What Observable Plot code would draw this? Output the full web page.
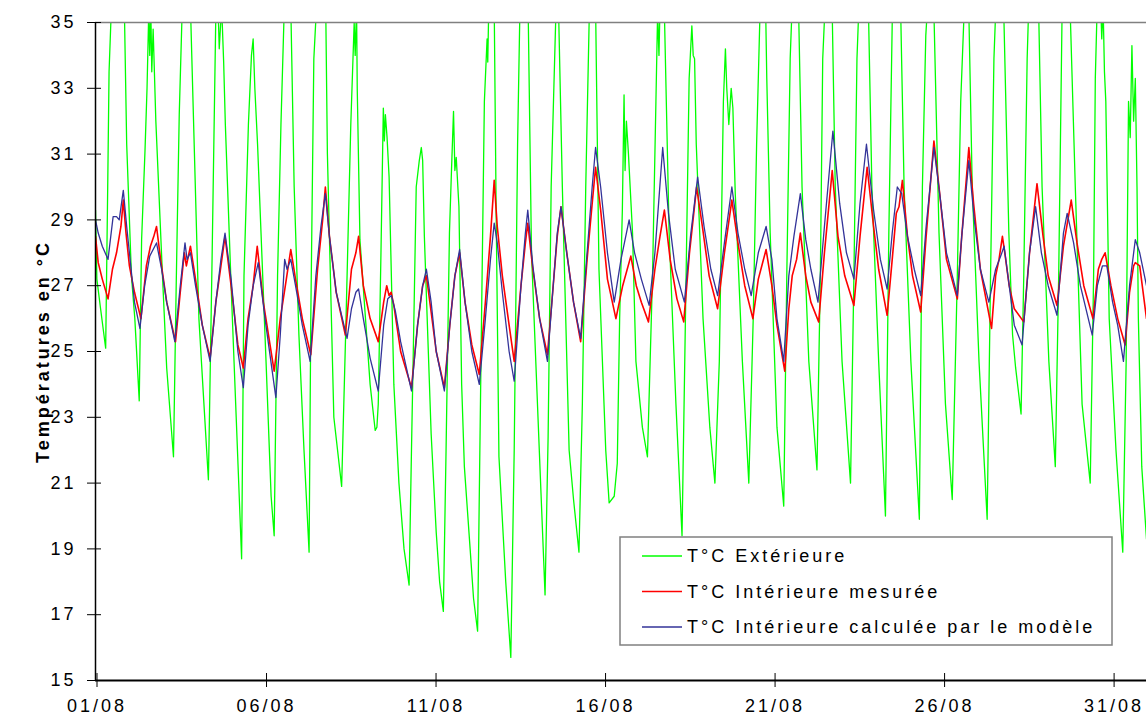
<!DOCTYPE html>
<html>
<head>
<meta charset="utf-8">
<script src="https://cdn.jsdelivr.net/npm/d3@7"></script>
<script src="https://cdn.jsdelivr.net/npm/@observablehq/plot@0.6"></script>
<style>
  html, body { margin: 0; padding: 0; background: #fff; }
  #chart svg { display: block; }
</style>
</head>
<body>
<div id="chart"></div>
<script>
// ---- Data (days since 01/08 00:00, temperature in °C) ----
const seriesNames = ["T°C Extérieure", "T°C Intérieure mesurée", "T°C Intérieure calculée par le modèle"];
const yTitle = "Températures en °C";
const yDomain = [15, 35];
const yTicks = [15, 17, 19, 21, 23, 25, 27, 29, 31, 33, 35];
const xTickLabels = ["01/08", "06/08", "11/08", "16/08", "21/08", "26/08", "31/08"];
const xDomainLabels = ["01/08", "01/09"];
const year = 2003;

const extDay = [
  0.00,0.04,0.15,0.30,0.36,0.40,0.47,0.65,0.85,0.92,1.06,1.16,1.29,1.36,1.46,1.52,1.57,1.60,1.63,1.66,1.70,1.78,1.98,2.10,2.30,
  2.38,2.47,2.56,2.70,2.80,3.05,3.33,3.44,3.55,3.60,3.65,3.72,3.78,3.83,4.00,4.15,4.31,4.38,4.51,4.60,4.65,4.70,4.78,5.03,5.18,5.27,
  5.37,5.47,5.57,5.66,5.76,5.86,6.00,6.15,6.30,6.35,6.44,6.52,6.65,6.79,6.84,7.03,7.26,7.38,7.53,7.63,7.66,7.70,7.72,7.80,8.10,8.25,
  8.30,8.34,8.42,8.49,8.52,8.55,8.60,8.66,8.80,8.95,9.10,9.25,9.32,9.40,9.46,9.55,9.61,9.65,9.70,9.90,10.05,10.15,10.26,
  10.34,10.44,10.50,10.56,10.60,10.64,10.72,10.80,10.88,11.05,11.15,11.27,11.37,11.47,11.55,11.57,11.60,11.68,11.76,11.82,11.90,12.10,12.25,
  12.35,12.45,12.52,12.65,12.76,12.86,13.09,13.26,13.35,13.44,13.58,13.62,13.66,13.77,13.97,14.10,14.26,14.36,14.46,14.57,14.66,14.75,14.85,15.05,
  15.15,15.30,15.39,15.46,15.54,15.59,15.62,15.66,15.72,15.84,15.94,16.13,16.28,16.43,16.53,16.58,16.62,16.66,16.72,16.78,16.92,17.12,17.30,
  17.42,17.51,17.59,17.63,17.67,17.72,17.92,18.12,18.27,18.40,18.52,18.58,18.62,18.68,18.75,18.80,18.87,19.08,19.27,
  19.40,19.50,19.60,19.66,19.72,19.76,19.80,19.90,20.10,20.30,20.39,20.49,20.54,20.64,20.74,20.84,21.04,21.28,
  21.38,21.45,21.51,21.62,21.73,21.82,22.02,22.27,22.37,22.46,22.51,22.65,22.80,22.90,23.10,23.30,23.40,23.50,23.62,23.75,23.85,24.05,24.30,
  24.39,24.49,24.53,24.62,24.73,24.88,25.07,25.27,25.42,25.52,25.62,25.69,25.76,25.86,26.06,26.30,26.40,26.50,26.55,26.68,26.79,26.94,27.05,27.14,27.30,
  27.38,27.48,27.52,27.67,27.82,27.92,28.12,28.31,28.41,28.51,28.63,28.75,28.90,29.10,29.34,29.44,29.49,29.54,29.62,29.68,29.72,29.76,29.80,29.90,30.10,30.30,
  30.40,30.47,30.52,30.57,30.62,30.67,30.72,30.76,30.86,31.00
];
const extTemp = [
  29.3,27.2,26.3,25.1,30.0,33.5,35.5,38.5,35.5,31.3,27.3,26.0,23.5,28.4,31.1,33.0,35.3,34.0,35.5,33.5,34.8,32.0,27.2,24.5,21.8,
  27.0,32.2,35.5,38.0,35.5,26.0,21.1,27.9,35.3,36.0,34.2,35.5,33.8,31.9,27.0,23.0,18.7,27.3,31.9,34.0,34.5,33.0,31.3,24.7,20.6,19.4,
  27.3,31.9,35.5,38.5,35.5,30.0,25.5,22.0,18.9,26.0,33.9,35.5,39.0,35.5,31.0,23.0,20.9,25.6,31.9,35.0,34.0,35.5,33.0,28.4,24.0,22.6,
  22.7,23.4,28.0,32.4,31.4,32.2,31.5,30.3,24.0,21.0,19.0,17.9,22.0,26.5,30.0,30.8,31.2,30.8,28.5,22.5,19.5,18.0,17.1,
  22.0,28.6,30.5,32.3,30.5,30.9,29.4,24.0,21.5,19.0,17.5,16.5,24.7,32.6,34.5,33.8,35.5,37.0,35.5,29.0,21.8,18.0,15.7,
  22.0,31.3,35.5,38.5,35.5,28.0,22.0,17.6,22.4,30.0,35.3,36.0,35.3,30.0,22.0,20.5,18.9,23.4,30.0,35.5,37.0,35.5,27.5,22.0,
  20.4,20.6,21.6,26.0,29.3,32.8,30.5,32.0,31.0,28.6,24.7,22.7,21.8,27.3,32.6,35.3,34.0,36.0,35.8,35.3,28.6,23.4,19.4,
  27.3,33.3,34.9,34.0,33.9,31.3,26.0,22.7,21.0,24.7,32.6,34.2,33.0,31.9,33.0,32.4,29.8,24.7,21.0,
  26.0,31.3,35.3,36.5,35.3,35.8,33.3,28.6,22.7,20.3,27.3,33.9,35.3,38.0,35.3,30.0,24.7,21.4,
  27.3,33.9,35.3,38.5,35.3,30.0,24.7,21.0,27.3,33.9,35.3,39.0,35.3,30.0,24.7,20.0,28.6,35.0,38.5,35.3,30.0,24.7,19.9,
  30.0,34.6,35.3,38.0,35.3,28.6,23.4,20.5,27.3,32.6,35.3,37.0,35.3,30.0,24.7,19.9,27.3,33.9,35.3,38.0,35.3,28.6,25.5,24.5,23.1,
  27.3,33.9,35.3,39.0,35.3,30.0,24.7,21.5,27.3,35.3,37.5,35.3,30.0,23.4,21.0,27.3,33.3,35.3,36.5,34.5,35.5,33.5,32.6,26.0,22.0,18.9,
  24.7,32.6,31.5,34.3,32.0,33.3,30.0,26.0,21.5,19.3
];

const mesDay = [
  0.00,0.08,0.20,0.37,0.50,0.62,0.75,0.82,0.90,1.00,1.15,1.34,1.50,1.62,1.72,1.80,1.92,2.10,2.36,2.50,2.62,2.68,2.80,2.95,3.15,3.38,
  3.55,3.70,3.82,4.00,4.20,4.36,4.50,4.65,4.77,4.95,5.27,5.45,5.60,5.76,5.90,6.10,6.35,6.55,6.70,6.78,6.90,7.10,7.37,7.55,7.68,7.76,
  7.90,8.10,8.34,8.50,8.59,8.66,8.72,8.80,9.00,9.32,9.50,9.65,9.76,9.90,10.05,10.29,10.45,10.60,10.74,10.90,11.10,11.32,11.50,11.65,
  11.76,11.85,12.00,12.20,12.35,12.55,12.68,12.75,12.90,13.10,13.33,13.50,13.62,13.73,13.90,14.10,14.31,14.50,14.65,14.75,14.90,15.10,
  15.35,15.55,15.79,15.95,16.10,16.31,16.50,16.65,16.78,16.95,17.15,17.35,17.52,17.73,17.90,18.10,18.35,18.55,18.77,18.95,19.15,19.39,
  19.55,19.78,19.95,20.10,20.33,20.45,20.55,20.68,20.79,20.95,21.10,21.33,21.50,21.73,21.90,22.10,22.37,22.55,22.76,22.95,23.10,23.35,
  23.50,23.62,23.70,23.80,23.95,24.10,24.34,24.50,24.73,24.90,25.10,25.42,25.55,25.76,25.90,26.10,26.43,26.55,26.65,26.75,26.82,26.95,
  27.10,27.38,27.55,27.77,27.95,28.10,28.36,28.55,28.78,28.95,29.15,29.42,29.58,29.68,29.78,29.95,30.15,30.37,30.50,30.62,30.67,30.80,31.00
];
const mesTemp = [
  28.5,27.7,27.2,26.6,27.5,28.0,28.8,29.6,28.6,27.6,26.8,26.0,27.6,28.2,28.5,28.8,27.8,26.5,25.3,26.8,28.0,27.6,28.2,27.2,25.8,24.8,
  26.5,27.6,28.5,27.0,25.2,24.5,26.0,27.0,28.2,26.5,24.4,26.0,27.0,28.1,27.2,26.0,24.9,27.5,29.0,30.0,28.5,26.8,25.5,27.5,28.0,28.5,
  27.0,26.0,25.3,26.5,27.0,26.7,26.8,26.4,25.0,23.9,25.8,27.0,27.3,26.2,25.0,23.9,25.8,27.3,28.0,26.5,25.2,24.3,26.5,28.5,
  30.2,28.8,27.3,25.8,24.7,27.0,28.3,28.9,27.5,26.0,24.9,27.0,28.5,29.4,28.0,26.5,25.3,27.8,29.5,30.6,29.3,27.2,
  26.0,27.0,27.9,27.0,26.5,25.9,27.5,28.5,29.3,27.8,26.6,25.9,28.0,30.0,28.8,27.3,26.3,28.0,29.6,28.3,27.0,26.0,
  27.2,28.1,27.0,25.8,24.4,26.3,27.3,27.8,28.6,27.3,26.5,25.9,28.0,30.5,28.5,27.3,26.4,28.5,30.6,28.8,27.5,26.1,
  27.8,29.2,29.4,30.2,28.5,27.3,26.2,28.5,31.4,29.8,27.8,26.6,28.5,31.2,29.5,27.5,25.7,27.3,27.8,28.5,28.0,27.0,
  26.3,25.9,28.0,30.1,28.5,27.3,26.4,28.2,29.6,28.3,27.0,26.0,27.5,27.8,28.0,27.0,26.0,25.2,26.8,27.6,27.7,27.6,26.0
];

const calDay = [
  0.00,0.08,0.20,0.37,0.45,0.52,0.62,0.70,0.82,0.92,1.05,1.15,1.31,1.45,1.60,1.80,1.95,2.10,2.34,2.50,2.64,2.70,2.80,2.95,3.15,3.38,
  3.55,3.70,3.82,4.00,4.20,4.36,4.50,4.65,4.80,5.00,5.32,5.45,5.58,5.65,5.76,5.90,6.10,6.33,6.50,6.65,6.78,6.90,7.10,7.42,7.55,7.68,
  7.76,7.90,8.10,8.34,8.50,8.62,8.73,8.85,9.00,9.32,9.50,9.65,9.76,9.90,10.05,10.29,10.45,10.60,10.74,10.90,11.10,11.32,11.50,11.65,
  11.76,11.85,12.00,12.20,12.35,12.55,12.68,12.75,12.90,13.10,13.33,13.50,13.62,13.73,13.90,14.10,14.31,14.50,14.65,14.75,14.90,15.10,
  15.30,15.50,15.74,15.90,16.10,16.33,16.50,16.63,16.73,16.90,17.10,17.37,17.55,17.76,17.95,18.15,18.35,18.55,18.77,18.95,19.15,19.34,
  19.55,19.78,19.95,20.10,20.30,20.45,20.60,20.79,20.95,21.10,21.31,21.50,21.75,21.95,22.15,22.37,22.55,22.74,22.95,23.15,23.35,
  23.50,23.65,23.78,23.95,24.15,24.34,24.50,24.73,24.90,25.10,25.42,25.55,25.76,25.92,26.10,26.35,26.55,26.70,26.80,26.95,27.10,27.33,
  27.55,27.73,27.90,28.10,28.36,28.55,28.66,28.85,29.05,29.40,29.55,29.70,29.83,30.00,30.15,30.32,30.50,30.67,30.80,31.00
];
const calTemp = [
  29.0,28.6,28.2,27.8,28.5,29.1,29.1,29.0,29.9,28.8,27.5,26.5,25.7,27.0,27.9,28.3,27.5,26.5,25.3,27.0,28.3,27.8,28.0,27.0,25.8,24.7,
  26.5,27.8,28.6,27.2,25.0,23.9,25.8,27.0,27.7,26.0,23.6,25.5,27.8,27.5,27.8,27.0,25.8,24.7,27.3,28.8,29.8,28.5,26.8,25.4,26.3,26.8,
  26.9,26.0,24.8,23.8,25.8,26.6,26.7,26.2,25.3,23.8,25.8,27.0,27.5,26.5,25.0,23.8,25.8,27.3,28.1,26.5,25.0,24.0,26.0,27.8,
  28.9,28.3,26.8,25.0,24.1,27.0,28.6,29.3,27.6,26.0,24.7,27.0,28.6,29.4,28.0,26.5,25.4,28.0,30.0,31.2,30.0,28.0,
  26.5,27.8,29.0,28.0,27.2,26.4,28.0,29.8,31.2,29.2,27.5,26.5,28.5,30.3,28.8,27.5,26.7,28.3,30.0,28.6,27.5,26.7,
  28.0,28.8,27.8,26.0,24.7,27.3,28.5,29.8,28.4,27.5,26.5,28.8,31.7,29.5,28.0,27.2,29.5,31.3,29.3,27.8,26.9,
  28.6,30.0,29.8,28.5,27.5,26.7,28.8,31.2,29.8,28.0,26.7,28.5,30.8,29.0,27.5,26.5,27.5,27.9,28.2,27.0,25.8,25.2,
  28.0,29.4,28.0,27.0,26.1,28.6,29.2,28.3,27.0,25.5,27.0,27.6,27.6,26.5,25.8,24.7,27.0,28.4,28.0,27.0
];

// ---- Build tables ----
const parseDay = s => d3.utcParse("%d/%m/%Y")(`${s}/${year}`);
const t0 = parseDay(xDomainLabels[0]);
const toDate = d => new Date(+t0 + d * 864e5);
const mk = (days, temps) => days.map((d, i) => ({date: toDate(d), temp: temps[i]}));
const ext = mk(extDay, extTemp);
const mes = mk(mesDay, mesTemp);
const cal = mk(calDay, calTemp);
const xDomain = xDomainLabels.map(parseDay);
const xTicks = xTickLabels.map(parseDay);
const colors = ["#00ff00", "#ff0000", "#333399"];

const FONT = "Arial, 'Liberation Sans', sans-serif";

const chart = Plot.plot({
  width: 1147,
  height: 726,
  marginLeft: 95,
  marginRight: 1,
  marginTop: 22,
  marginBottom: 46,
  style: {fontFamily: FONT, fontSize: "18px", letterSpacing: "3px", background: "#fff", color: "#000", overflow: "visible"},
  x: {type: "utc", domain: xDomain},
  y: {domain: yDomain},
  marks: [
    Plot.line(ext, {x: "date", y: "temp", stroke: colors[0], strokeWidth: 1.3, clip: true}),
    Plot.line(mes, {x: "date", y: "temp", stroke: colors[1], strokeWidth: 1.6, clip: true}),
    Plot.line(cal, {x: "date", y: "temp", stroke: colors[2], strokeWidth: 1.3, clip: true}),
    Plot.ruleY([yDomain[1]], {stroke: "#808080", strokeWidth: 1.5}),
    Plot.ruleX([xDomain[0]], {stroke: "#000", strokeWidth: 1.5}),
    Plot.ruleY([yDomain[0]], {stroke: "#000", strokeWidth: 2}),
    Plot.axisY({ticks: yTicks, tickSize: 14, dx: 6, tickPadding: 11, label: null, tickFormat: d => String(d)}),
    Plot.axisX({ticks: xTicks, tickSize: 14, dy: -7, tickPadding: 12, dx: 1.5, label: null, tickFormat: d3.utcFormat("%d/%m")}),
    Plot.text([yTitle], {frameAnchor: "left", rotate: -90, dx: -52, textAnchor: "middle", fontWeight: "bold", fontSize: 18, text: d => d, ariaLabel: "y-title"})
  ]
});

document.getElementById("chart").appendChild(chart);

const svg = d3.select(chart);
svg.selectAll('g[aria-label="y-title"] text').style("letter-spacing", "3.6px");

// ---- Legend (boxed, inside the plot area) ----
const lg = svg.append("g").attr("transform", "translate(620,537)").attr("text-anchor", "start");
lg.append("rect").attr("width", 492).attr("height", 108)
  .attr("fill", "#fff").attr("stroke", "#808080").attr("stroke-width", 1.5);
seriesNames.forEach((name, i) => {
  const cy = 19 + i * 35.5;
  lg.append("line").attr("x1", 22).attr("x2", 62).attr("y1", cy).attr("y2", cy)
    .attr("stroke", colors[i]).attr("stroke-width", 1.5);
  lg.append("text").attr("x", 67).attr("y", cy).attr("dy", "0.36em")
    .attr("text-anchor", "start")
    .attr("fill", "#000").attr("font-size", 18).style("letter-spacing", "3px")
    .text(name);
});
</script>
</body>
</html>
